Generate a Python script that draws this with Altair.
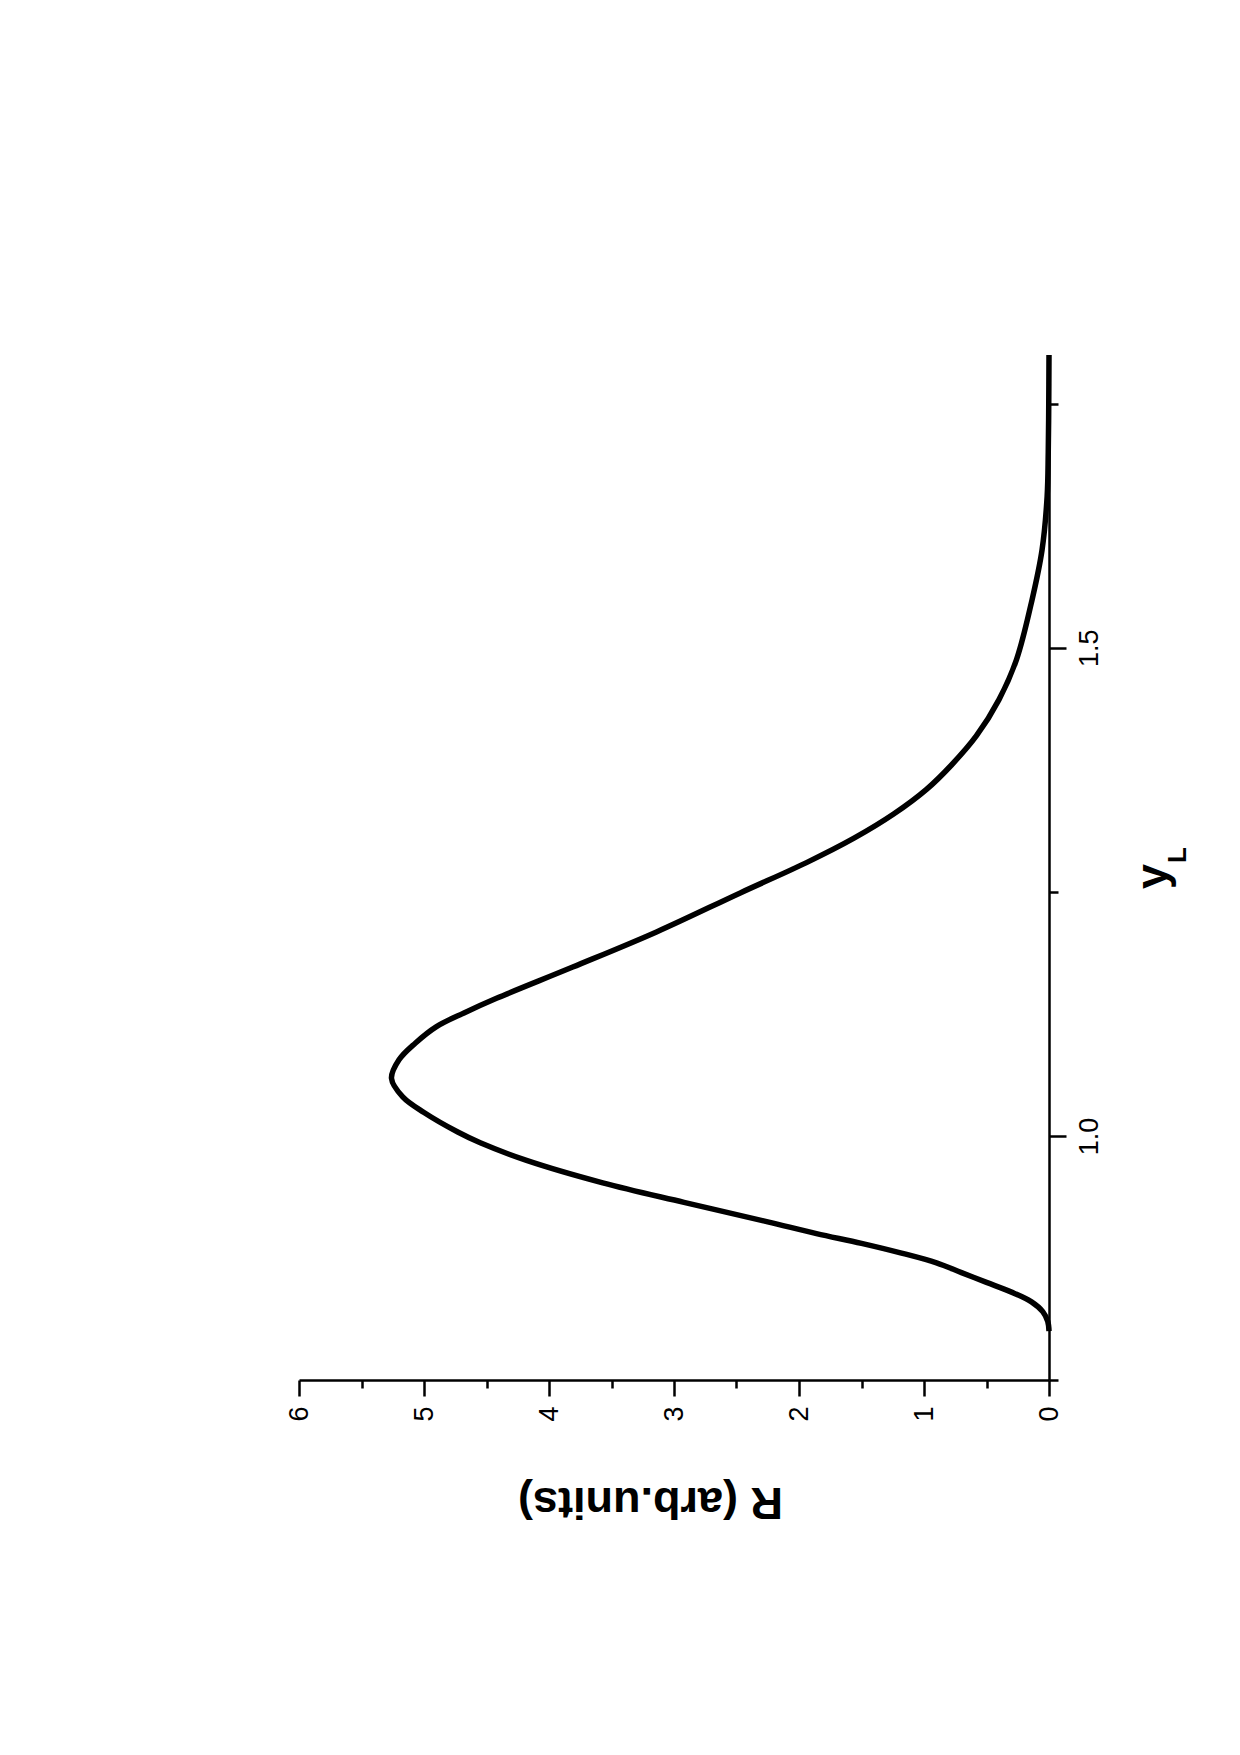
import altair as alt
import pandas as pd

# Data (y_L on the vertical axis, R on the horizontal, reversed)
yL = [0.800, 0.810, 0.820, 0.830, 0.840, 0.850, 0.860, 0.870, 0.880, 0.890,
      0.900, 0.912, 0.932, 0.952, 0.975, 0.993, 1.004, 1.024, 1.040, 1.059,
      1.078, 1.095, 1.112, 1.126, 1.141, 1.173, 1.209, 1.249, 1.280, 1.305,
      1.330, 1.355, 1.380, 1.410, 1.447, 1.488, 1.549, 1.600, 1.655,
      1.700, 1.750, 1.800]
R = [0.00, 0.01, 0.05, 0.14, 0.30, 0.50, 0.70, 0.90, 1.18, 1.50,
     1.86, 2.25, 2.92, 3.57, 4.18, 4.55, 4.73, 5.00, 5.17, 5.26,
     5.20, 5.07, 4.90, 4.68, 4.42, 3.81, 3.14, 2.47, 1.94, 1.56,
     1.24, 0.98, 0.78, 0.58, 0.40, 0.26, 0.136, 0.056, 0.015,
     0.006, 0.002, 0.0]

r_ticks = [0, 0.5, 1, 1.5, 2, 2.5, 3, 3.5, 4, 4.5, 5, 5.5, 6]
y_ticks = [0.75, 1.0, 1.25, 1.5, 1.75]

df = pd.DataFrame({"yL": yL, "R": R})

FONT = "Liberation Sans"

line = alt.Chart(df).mark_line(
    color="black", strokeWidth=5.5, interpolate="catmull-rom", clip=False
).encode(
    x=alt.X("R:Q",
            scale=alt.Scale(domain=[0, 6], reverse=True, nice=False, zero=False),
            axis=alt.Axis(
                orient="bottom", values=r_ticks, grid=False,
                labelExpr="datum.value % 1 == 0 ? format(datum.value, 'd') : ''",
                tickSize={"condition": {"test": "datum.value % 1 == 0", "value": 16}, "value": 8},
                labelAngle=270, labelAlign="right", labelBaseline="middle",
                labelPadding=10, labelFontSize=27, labelFont=FONT, labelColor="black",
                labelFlush=False, labelOverlap=False,
                domainColor="black", domainWidth=2.5, tickColor="black", tickWidth=2.5,
                title="R (arb.units)", titleFont=FONT, titleFontSize=45,
                titleFontWeight="bold", titleColor="black", titleAngle=180,
                titleAlign="center", titleBaseline="alphabetic",
                titleX=351, titleY=107,
            )),
    y=alt.Y("yL:Q",
            scale=alt.Scale(domain=[0.75, 1.8], nice=False, zero=False),
            axis=alt.Axis(
                orient="right", values=y_ticks, grid=False,
                labelExpr="(datum.value == 1 || datum.value == 1.5) ? format(datum.value, '.1f') : ''",
                tickSize={"condition": {"test": "datum.value == 1 || datum.value == 1.5", "value": 17}, "value": 9},
                labelAngle=270, labelAlign="center", labelBaseline="top",
                labelPadding=10, labelFontSize=27, labelFont=FONT, labelColor="black",
                labelFlush=False, labelOverlap=False,
                domainColor="black", domainWidth=2.5, tickColor="black", tickWidth=2.5,
                title="y", titleFont=FONT, titleFontSize=45, titleFontWeight="bold",
                titleColor="black", titleAngle=270, titleAlign="center",
                titleBaseline="alphabetic", titleX=117, titleY=521,
            )),
    order=alt.Order("yL:Q", sort="ascending"),
)

sub = alt.Chart(pd.DataFrame({"t": ["L"]})).mark_text(
    angle=270, align="center", baseline="alphabetic", fontSize=26,
    fontWeight="bold", font=FONT, color="black"
).encode(
    text="t:N", x=alt.value(887), y=alt.value(500)
)

chart = alt.layer(line, sub).properties(
    width=750, height=1025,
    autosize=alt.AutoSizeParams(type="none"),
    padding={"left": 291, "top": 347, "right": 180, "bottom": 300},
).configure(
    background="white",
    view=alt.ViewConfig(strokeWidth=0, stroke="transparent"),
)

chart.save("out.html", embed_options={"renderer": "svg", "actions": False})
